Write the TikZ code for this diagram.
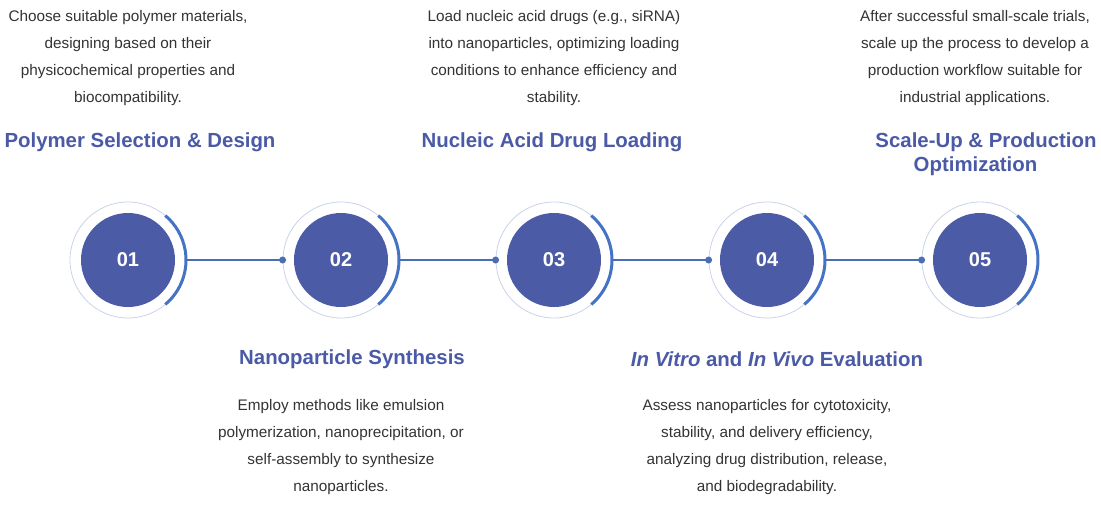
\documentclass[tikz,border=0pt]{standalone}
\usepackage{fontspec}
\setmainfont{Liberation Sans}
\usetikzlibrary{positioning, calc}
\definecolor{cStep}{HTML}{4B5BA6}
\definecolor{cTitle}{HTML}{4A5AA6}
\definecolor{cAccent}{HTML}{4472C4}
\definecolor{cLink}{HTML}{4A6EB4}
\definecolor{cRing}{HTML}{C8D2E8}
\definecolor{cText}{HTML}{333333}
\tikzset{
  stepdot/.style={
    circle, fill=cStep, minimum size=94pt, inner sep=0pt,
    font=\fontsize{20}{24}\selectfont\bfseries, text=white
  },
  ring/.style={
    circle, draw=cRing, line width=0.8pt, minimum size=116pt, inner sep=0pt
  },
  accent/.style={
    draw=cAccent, line width=3pt
  },
  link/.style={
    draw=cLink, line width=1.5pt
  },
  steptitle/.style={
    font=\fontsize{20.4}{24}\selectfont\bfseries, text=cTitle,
    align=center, inner sep=0pt
  },
  stepdesc/.style={
    font=\fontsize{15.3}{27.3}\selectfont, text=cText,
    align=center, inner sep=0pt
  },
}

\begin{document}
\begin{tikzpicture}[x=1pt, y=-1pt]
\useasboundingbox (0,0) rectangle (1101,507);

% step circles
\node[stepdot] (c1) at (128,260) {01};
\node[stepdot] (c2) at (341,260) {02};
\node[stepdot] (c3) at (554,260) {03};
\node[stepdot] (c4) at (767,260) {04};
\node[stepdot] (c5) at (980,260) {05};

% outer rings
\node[ring] (r1) at (c1) {};
\node[ring] (r2) at (c2) {};
\node[ring] (r3) at (c3) {};
\node[ring] (r4) at (c4) {};
\node[ring] (r5) at (c5) {};

% accent arcs
\draw[accent] (c1) ++(50:58) arc[start angle=50, end angle=-50, radius=58];
\draw[accent] (c2) ++(50:58) arc[start angle=50, end angle=-50, radius=58];
\draw[accent] (c3) ++(50:58) arc[start angle=50, end angle=-50, radius=58];
\draw[accent] (c4) ++(50:58) arc[start angle=50, end angle=-50, radius=58];
\draw[accent] (c5) ++(50:58) arc[start angle=50, end angle=-50, radius=58];

% connectors
\draw[link] (r1.east) -- (r2.west);
\draw[link] (r2.east) -- (r3.west);
\draw[link] (r3.east) -- (r4.west);
\draw[link] (r4.east) -- (r5.west);
\fill[cLink] (r2.west) circle (3.5);
\fill[cLink] (r3.west) circle (3.5);
\fill[cLink] (r4.west) circle (3.5);
\fill[cLink] (r5.west) circle (3.5);

% upper texts
\node[stepdesc] (d1) at (128,58) {Choose suitable polymer materials,\\designing based on their\\physicochemical properties and\\biocompatibility.};
\node[steptitle] (t1) at (140,142) {Polymer Selection \& Design};

\node[stepdesc] (d3) at (554,58) {Load nucleic acid drugs (e.g., siRNA)\\into nanoparticles, optimizing loading\\conditions to enhance efficiency and\\stability.};
\node[steptitle] (t3) at (552,142) {Nucleic Acid Drug Loading};

\node[stepdesc] (d5) at (975,58) {After successful small-scale trials,\\scale up the process to develop a\\production workflow suitable for\\industrial applications.};
\node[steptitle] (t5) at (986,154) {Scale-Up \& Production\\Optimization\hspace*{21pt}};

% lower texts
\node[steptitle] (t2) at (352,359) {Nanoparticle Synthesis};
\node[stepdesc] (d2) at (341,447) {Employ methods like emulsion\\polymerization, nanoprecipitation, or\\self-assembly to synthesize\\nanoparticles.};

\node[steptitle] (t4) at (777,359) {\textit{In Vitro} and \textit{In Vivo} Evaluation};
\node[stepdesc] (d4) at (767,447) {Assess nanoparticles for cytotoxicity,\\stability, and delivery efficiency,\\analyzing drug distribution, release,\\and biodegradability.};

\end{tikzpicture}
\end{document}
